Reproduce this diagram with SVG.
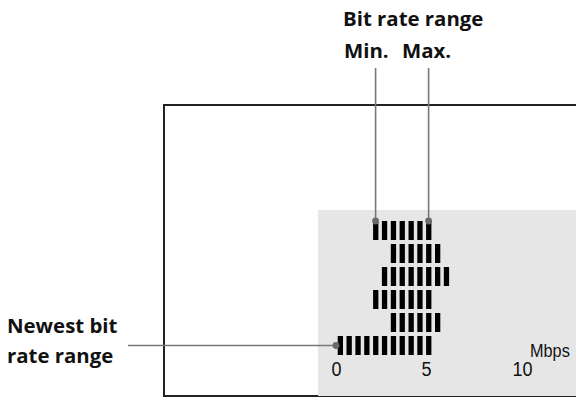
<svg xmlns="http://www.w3.org/2000/svg" width="576" height="402" viewBox="0 0 576 402">
<defs>
<style>
.lbl{font-family:"Open Sans","Noto Sans",sans-serif;font-weight:bold;font-size:20.4px;fill:#111}
.ax{font-family:"Liberation Sans",Arial,sans-serif;fill:#111}
.bar{fill:#000}
.lead{stroke:#777;stroke-width:1.6;fill:none}
.dot{fill:#6a6a6a}
</style>
</defs>
<g id="frame">
<rect x="164" y="105" width="420" height="291" fill="#fff" stroke="#222" stroke-width="2"/>
<rect x="318" y="210" width="258" height="186" fill="#e6e6e6"/>
</g>
<g id="bars">
<g id="row1">
<rect class="bar" x="373.1" y="221" width="5.3" height="19"/><rect class="bar" x="381.9" y="221" width="5.3" height="19"/><rect class="bar" x="390.8" y="221" width="5.3" height="19"/><rect class="bar" x="399.6" y="221" width="5.3" height="19"/><rect class="bar" x="408.5" y="221" width="5.3" height="19"/><rect class="bar" x="417.3" y="221" width="5.3" height="19"/><rect class="bar" x="426.1" y="221" width="5.3" height="19"/>
</g>
<g id="row2">
<rect class="bar" x="390.8" y="244" width="5.3" height="19"/><rect class="bar" x="399.6" y="244" width="5.3" height="19"/><rect class="bar" x="408.5" y="244" width="5.3" height="19"/><rect class="bar" x="417.3" y="244" width="5.3" height="19"/><rect class="bar" x="426.1" y="244" width="5.3" height="19"/><rect class="bar" x="435.0" y="244" width="5.3" height="19"/>
</g>
<g id="row3">
<rect class="bar" x="381.9" y="267" width="5.3" height="19"/><rect class="bar" x="390.8" y="267" width="5.3" height="19"/><rect class="bar" x="399.6" y="267" width="5.3" height="19"/><rect class="bar" x="408.5" y="267" width="5.3" height="19"/><rect class="bar" x="417.3" y="267" width="5.3" height="19"/><rect class="bar" x="426.1" y="267" width="5.3" height="19"/><rect class="bar" x="435.0" y="267" width="5.3" height="19"/><rect class="bar" x="443.8" y="267" width="5.3" height="19"/>
</g>
<g id="row4">
<rect class="bar" x="373.1" y="290" width="5.3" height="19"/><rect class="bar" x="381.9" y="290" width="5.3" height="19"/><rect class="bar" x="390.8" y="290" width="5.3" height="19"/><rect class="bar" x="399.6" y="290" width="5.3" height="19"/><rect class="bar" x="408.5" y="290" width="5.3" height="19"/><rect class="bar" x="417.3" y="290" width="5.3" height="19"/><rect class="bar" x="426.1" y="290" width="5.3" height="19"/>
</g>
<g id="row5">
<rect class="bar" x="390.8" y="313" width="5.3" height="19"/><rect class="bar" x="399.6" y="313" width="5.3" height="19"/><rect class="bar" x="408.5" y="313" width="5.3" height="19"/><rect class="bar" x="417.3" y="313" width="5.3" height="19"/><rect class="bar" x="426.1" y="313" width="5.3" height="19"/><rect class="bar" x="435.0" y="313" width="5.3" height="19"/>
</g>
<g id="row6">
<rect class="bar" x="337.7" y="336" width="5.3" height="19"/><rect class="bar" x="346.5" y="336" width="5.3" height="19"/><rect class="bar" x="355.4" y="336" width="5.3" height="19"/><rect class="bar" x="364.2" y="336" width="5.3" height="19"/><rect class="bar" x="373.1" y="336" width="5.3" height="19"/><rect class="bar" x="381.9" y="336" width="5.3" height="19"/><rect class="bar" x="390.8" y="336" width="5.3" height="19"/><rect class="bar" x="399.6" y="336" width="5.3" height="19"/><rect class="bar" x="408.5" y="336" width="5.3" height="19"/><rect class="bar" x="417.3" y="336" width="5.3" height="19"/><rect class="bar" x="426.1" y="336" width="5.3" height="19"/>
</g>
</g>
<g id="axis">
<text class="ax" transform="translate(336.5 376) scale(0.88 1)" font-size="20.5" text-anchor="middle">0</text>
<text class="ax" transform="translate(426.5 376) scale(0.88 1)" font-size="20.5" text-anchor="middle">5</text>
<text class="ax" transform="translate(522.5 376) scale(0.88 1)" font-size="20.5" text-anchor="middle">10</text>
<text class="ax" transform="translate(530 357) scale(0.88 1)" font-size="18.5">Mbps</text>
</g>
<g id="connectors">
<line class="lead" x1="375.6" y1="68" x2="375.6" y2="221"/>
<line class="lead" x1="428.6" y1="68" x2="428.6" y2="221"/>
<line class="lead" x1="128" y1="345.5" x2="336" y2="345.5"/>
<circle class="dot" cx="375.6" cy="221" r="3.4"/>
<circle class="dot" cx="428.6" cy="221" r="3.4"/>
<circle class="dot" cx="336" cy="345.5" r="3.4"/>
</g>
<g id="label-bitrate">
<text class="lbl" x="343" y="25.7">Bit rate range</text>
<text class="lbl" x="344" y="58.3">Min.</text>
<text class="lbl" x="402" y="58.3">Max.</text>
</g>
<g id="label-newest">
<text class="lbl" x="7" y="333.3">Newest bit</text>
<text class="lbl" x="7" y="362.5">rate range</text>
</g>
</svg>
